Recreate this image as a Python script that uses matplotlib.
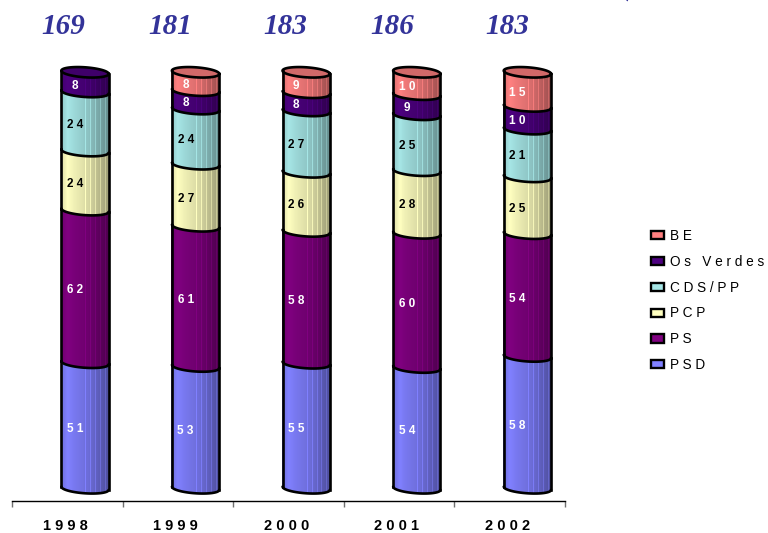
import numpy as np
import matplotlib
matplotlib.use("Agg")
import matplotlib.pyplot as plt
from matplotlib.collections import PolyCollection
from matplotlib.patches import Patch

years = ["1 9 9 8", "1 9 9 9", "2 0 0 0", "2 0 0 1", "2 0 0 2"]
totals = ["169", "181", "183", "186", "183"]
PSD = [51, 53, 55, 54, 58]
PS = [62, 61, 58, 60, 54]
PCP = [24, 27, 26, 28, 25]
CDS = [24, 24, 27, 25, 21]
VERDES = [8, 8, 8, 9, 10]
BE = [0, 8, 9, 10, 15]

series = [PSD, PS, PCP, CDS, VERDES, BE]
names = ["P S D", "P S", "P C P", "C D S / P P", "O s   V e r d e s", "B E"]
colors = ["#8080ff", "#800080", "#ffffc0", "#a6e6e6", "#4d0080", "#ff8080"]
txtcol = ["white", "white", "black", "black", "white", "white"]

W, H = 768, 533
fig = plt.figure(figsize=(W / 100, H / 100), dpi=100)
L, R, T, B = 12, 565, 60, 501
ax = fig.add_axes([L / W, 1 - B / H, (R - L) / W, (B - T) / H])
PX = 4.16
BASE = 488.3
ax.set_xlim(0, 5)
ax.set_ylim((BASE - B) / PX, (BASE - T) / PX)
for s in ["left", "right", "top"]:
    ax.spines[s].set_visible(False)
ax.spines["bottom"].set_linewidth(1.0)
ax.set_yticks([])
ax.set_xticks(range(6))
ax.set_xticklabels([])
ax.tick_params(axis="x", which="major", length=4.5, width=1.0, color="#707070")
ax.set_xticks([i + 0.48 for i in range(5)], minor=True)
ax.set_xticklabels(years, minor=True, fontsize=10.5, fontweight="bold",
                   family="Liberation Sans")
ax.tick_params(axis="x", which="minor", length=0, pad=13)

OFF, HW = 0.16, 0.214
BH, TILT = 5.0 / PX, 1.6 / PX
N = 48
us = np.linspace(-1, 1, N + 1)
LW = 1.9


def curve(p, u):
    return p - TILT * u - BH * np.sqrt(np.clip(1 - u * u, 0, 1))


def shade(u, i):
    s = np.interp(u, [-1, -0.72, -0.45, 0.2, 1], [0.86, 1.0, 0.94, 0.84, 0.62])
    if u > 0.0 and i % 5 == 0:
        s = min(1.0, s + 0.14)
    return s


rgb = [np.array(matplotlib.colors.to_rgb(c)) for c in colors]
for k in range(5):
    cx = k + 0.5 + OFF
    tot = sum(s[k] for s in series)
    cum = 0.0
    for j, s in enumerate(series):
        if s[k] == 0:
            continue
        p0, p1 = cum / tot * 100, (cum + s[k]) / tot * 100
        cum += s[k]
        polys, cols = [], []
        for i in range(N):
            a, b = us[i], us[i + 1]
            polys.append([(cx + HW * a, curve(p0, a)), (cx + HW * b, curve(p0, b)),
                          (cx + HW * b, curve(p1, b)), (cx + HW * a, curve(p1, a))])
            cols.append(tuple(rgb[j] * shade((a + b) / 2, i)))
        ax.add_collection(PolyCollection(polys, facecolors=cols, edgecolors="none",
                                         antialiased=False, zorder=2))
        uu = np.linspace(-1, 1, 80)
        ax.plot(cx + HW * uu, curve(p0, uu), color="black", lw=LW, zorder=4,
                solid_capstyle="round")
        ax.plot([cx - HW, cx - HW], [curve(p0, -1), curve(p1, -1)], color="black", lw=LW, zorder=4)
        ax.plot([cx + HW, cx + HW], [curve(p0, 1), curve(p1, 1)], color="black", lw=LW, zorder=4)
        ax.annotate(" ".join(str(s[k])), (cx - 0.09, (p0 + p1) / 2), xytext=(0, -2.5),
                    textcoords="offset points", ha="center", va="center", color=txtcol[j],
                    fontsize=8.5, fontweight="bold", family="Liberation Sans", zorder=5)
        if cum == tot:
            th = np.linspace(0, 2 * np.pi, 120)
            uc, vc = np.cos(th), np.sin(th)
            top_y = p1 - TILT * uc + BH * vc
            ax.fill(cx + HW * uc, top_y, color=tuple(rgb[j] * 0.82), zorder=3, lw=0)
            ax.plot(cx + HW * uc, top_y, color="black", lw=LW, zorder=4)

title_x = [63, 170, 285, 392, 507]
for x, t in zip(title_x, totals):
    fig.text(x / W, 1 - 26 / H, t, ha="center", va="center", color="#333399",
             fontsize=21, fontweight="bold", fontstyle="italic", family="Liberation Serif")
fig.text(626 / W, 1 - 2 / H, "(", ha="center", va="bottom", color="#333399",
         fontsize=18, fontweight="bold", fontstyle="italic", family="Liberation Serif")

handles = [Patch(facecolor=colors[j], edgecolor="black", lw=1.7, label=names[j])
           for j in range(5, -1, -1)]
fig.legend(handles=handles, loc="center left", bbox_to_anchor=(651 / W, 1 - 300.5 / H),
           frameon=False, prop={"family": "Liberation Sans", "size": 9.8},
           borderpad=0, borderaxespad=0, handlelength=0.95, handleheight=0.55,
           handletextpad=0.45, labelspacing=0.87)
fig.savefig("out.png", dpi=100)
